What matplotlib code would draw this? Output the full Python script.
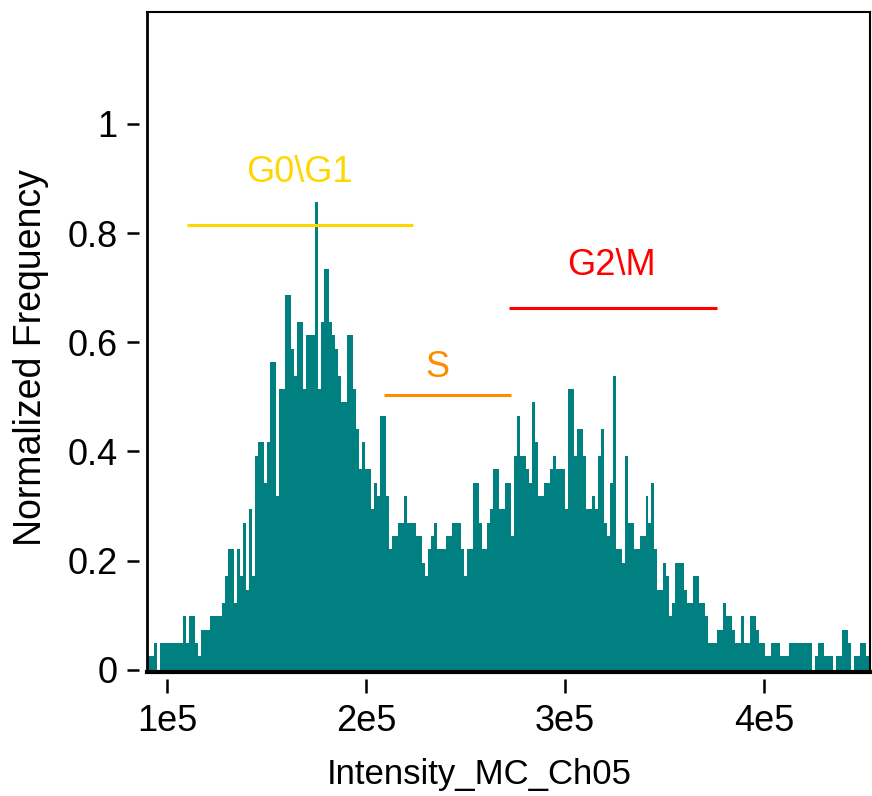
import matplotlib.pyplot as plt
import numpy as np

plt.rcParams['font.family'] = ['Liberation Sans', 'DejaVu Sans']

# event counts per intensity bin (bins 1500 wide, first edge at 90,000)
bin_start = 90000
bin_width = 1500
bin_counts = [
    1, 1, 2, 0,
    2, 2, 2, 2, 2, 2, 2, 2,
    4, 2, 4, 4, 2, 1, 3, 3, 3, 4, 4, 4, 4, 5, 7, 9, 9, 5,
    9, 7, 11, 6, 12, 7, 16, 17, 17, 14, 17, 23, 23, 13, 21, 21, 28, 28,
    24, 22, 26, 26, 21, 25, 25, 25, 35, 21, 26, 30, 30, 26, 25, 24, 22, 20, 20, 25, 25,
    21, 18, 15, 17, 15, 15, 12, 14, 13, 19, 19, 13,
    9, 10, 10, 11, 11, 13, 11, 11, 11, 10, 10, 8, 7, 9, 10, 11, 9, 9, 9, 10,
    10, 11, 11, 11, 9, 7, 9, 9,
    14, 14, 11, 9, 9, 11, 12, 15, 15, 12, 12, 14, 14, 10, 16, 19, 16, 16, 15, 14,
    20, 17, 13, 13, 14, 14, 15, 16, 15, 15, 15, 12, 21, 21,
    16, 18, 18, 16, 12, 12, 13, 12, 16, 18, 11, 10, 14, 22,
    9, 9, 8, 16, 11, 11, 9, 9, 10, 10, 13, 11, 14, 9, 6, 6, 8, 7, 4, 5,
    8, 8, 8, 6, 5, 5, 7, 7, 5, 5, 4,
    2, 2, 2, 3, 3, 5, 4, 4, 3, 2, 2, 4, 2, 2, 4, 4, 3, 2, 2, 1,
    1, 2, 2, 2, 1, 1, 1,
    2, 2, 2, 2, 2, 2, 2, 2, 0, 1, 2, 2, 1, 1, 1, 0, 1, 1,
    3, 3, 2, 0, 1, 1, 2, 2, 1, 0, 0,
]
freq_per_count = 0.0245

# cell-cycle gates
gate_names = ["G0\\G1", "S", "G2\\M"]
gate_colors = ["#FFD700", "#FF8C00", "#FF0000"]
gate_lo = [1.098e5, 2.089e5, 2.718e5]
gate_hi = [2.235e5, 2.728e5, 3.764e5]
gate_level = [0.815, 0.504, 0.663]
gate_text_x = [1.666e5, 2.356e5, 3.236e5]
gate_text_y = [0.912, 0.553, 0.740]

x_ticks = [1e5, 2e5, 3e5, 4e5]
x_tick_labels = ["1e5", "2e5", "3e5", "4e5"]
y_ticks = [0, 0.2, 0.4, 0.6, 0.8, 1]
y_tick_labels = ["0", "0.2", "0.4", "0.6", "0.8", "1"]

counts = np.array(bin_counts, dtype=float)
edges = bin_start + bin_width * np.arange(len(counts) + 1)
freq = counts * freq_per_count

y_bottom = -0.004

fig = plt.figure(figsize=(8.72, 7.96), dpi=100)
ax = fig.add_axes([0.1686, 0.1558, 0.829, 0.829])

ax.stairs(freq, edges, baseline=y_bottom, fill=True, color="#008080", lw=0)

for name, c, lo, hi, lev, tx, ty in zip(gate_names, gate_colors, gate_lo, gate_hi,
                                        gate_level, gate_text_x, gate_text_y):
    ax.plot([lo, hi], [lev, lev], color=c, lw=2.2, solid_capstyle="butt")
    ax.text(tx, ty, name, color=c, fontsize=26, ha="center", va="center")

ax.set_xlim(0.897e5, 4.534e5)
ax.set_ylim(y_bottom, 1.205)
ax.set_xticks(x_ticks)
ax.set_xticklabels(x_tick_labels)
ax.set_yticks(y_ticks)
ax.set_yticklabels(y_tick_labels)

# ticks sit slightly away from the frame
ax.spines["left"].set_position(("outward", 6))
ax.spines["bottom"].set_position(("outward", 5))
ax.spines["left"].set_visible(False)
ax.spines["bottom"].set_visible(False)
ax.spines["top"].set_linewidth(1.5)
ax.spines["right"].set_linewidth(1.5)
ax.plot([0, 0], [0, 1], transform=ax.transAxes, color="black", lw=2, clip_on=False)
ax.plot([0, 1], [0, 0], transform=ax.transAxes, color="black", lw=3, clip_on=False)

ax.tick_params(axis="y", direction="out", length=9, width=1.8, labelsize=26, pad=6)
ax.tick_params(axis="x", direction="out", length=10, width=1.8, labelsize=26, pad=8)

ax.set_xlabel("Intensity_MC_Ch05", fontsize=25, va="center")
ax.xaxis.set_label_coords(0.459, -0.156)
ax.set_ylabel("Normalized Frequency", fontsize=27, va="center")
ax.yaxis.set_label_coords(-0.160, 0.476)

fig.savefig("out.png", dpi=100)
